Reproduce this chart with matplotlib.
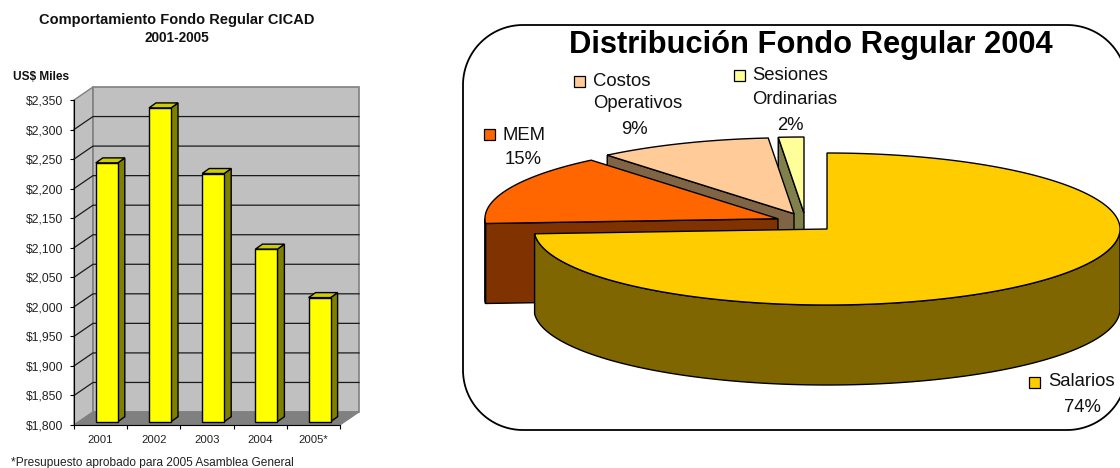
import numpy as np
import matplotlib
matplotlib.use("Agg")
import matplotlib.pyplot as plt
from matplotlib.patches import Polygon, Rectangle

plt.rcParams['font.family'] = ['Liberation Sans', 'DejaVu Sans']

# bar chart data
years = ['2001', '2002', '2003', '2004', '2005*']
fondo = [2238, 2331, 2220, 2092, 2010]
y_ticks = list(range(1800, 2351, 50))
y_labels = ['$' + format(v, ',') for v in y_ticks]

# pie data
rubros = ['Salarios', 'MEM', 'Costos', 'Sesiones']
partes = [74.0, 15.0, 9.6, 1.4]
top_col = ['#FFCC00', '#FF6600', '#FFCC99', '#FFFF99']
side_col = ['#7F6600', '#803300', '#7F6545', '#80804C']

W, H = 1120, 468
fig = plt.figure(figsize=(W / 100, H / 100), dpi=100, facecolor='white')

# overlay in pixels, for the frame and the free texts
ov = fig.add_axes([0, 0, 1, 1], zorder=5)
ov.set_xlim(0, W)
ov.set_ylim(H, 0)
ov.axis('off')

# ---- bar chart ----
ax = fig.add_axes([74 / W, 1 - 425 / H, 266 / W, 325 / H])
ax.set_xlim(0, 5)
ax.set_ylim(1800, 2350)
ax.patch.set_visible(False)
for s in ['top', 'right']:
    ax.spines[s].set_visible(False)
for s in ['left', 'bottom']:
    ax.spines[s].set_linewidth(0.8)

ppx = 5 / 266.0
ppy = 550 / 325.0
DX = 19 * ppx
DY = 13 * ppy
ymin, ymax = 1800, 2350

ax.add_patch(Polygon([(0, ymin), (DX, ymin + DY), (DX, ymax + DY), (0, ymax)],
                     fc='#C0C0C0', ec='#808080', lw=1, clip_on=False, zorder=1))
ax.add_patch(Polygon([(DX, ymin + DY), (5 + DX, ymin + DY), (5 + DX, ymax + DY), (DX, ymax + DY)],
                     fc='#C0C0C0', ec='#808080', lw=1.2, clip_on=False, zorder=1))
ax.add_patch(Polygon([(0, ymin), (5, ymin), (5 + DX, ymin + DY), (DX, ymin + DY)],
                     fc='#808080', ec='#808080', lw=0.8, clip_on=False, zorder=1))
for v in y_ticks[1:-1]:
    ax.plot([0, DX, 5 + DX], [v, v + DY, v + DY], color='#1a1a1a', lw=0.9, clip_on=False, zorder=2)

# bars: front face through ax.bar, then the two depth faces
bw = 22 * ppx
sx = 6.2 * ppx
sy = 3.3 * ppy
bdx = 7 * ppx
bdy = 5 * ppy
pos = np.arange(len(years)) + 0.5 + sx
ax.bar(pos, np.array(fondo) - ymin + 0.0, bw, bottom=ymin + sy, color='#FFFF00',
       edgecolor='black', linewidth=1, clip_on=False, zorder=4)
for p, v in zip(pos, fondo):
    l = p - bw / 2
    r = p + bw / 2
    t = v + sy
    ax.add_patch(Polygon([(r, ymin + sy), (r + bdx, ymin + sy + bdy), (r + bdx, t + bdy), (r, t)],
                         fc='#808000', ec='black', lw=1, clip_on=False, zorder=3))
    ax.add_patch(Polygon([(l, t), (r, t), (r + bdx, t + bdy), (l + bdx, t + bdy)],
                         fc='#CCCC00', ec='black', lw=1, clip_on=False, zorder=3))

ax.set_yticks(y_ticks)
ax.set_yticklabels(y_labels, fontsize=8.7, color='#222222')
ax.tick_params(axis='y', length=3, width=0.8, pad=5)
ax.set_xticks(range(6))
ax.set_xticklabels([])
ax.tick_params(axis='x', which='major', length=3, width=0.8)
ax.set_xticks(np.arange(5) + 0.5, minor=True)
ax.set_xticklabels(years, minor=True, fontsize=8.2, color='#222222')
ax.tick_params(axis='x', which='minor', length=0, pad=7)

ov.text(177, 20, 'Comportamiento Fondo Regular CICAD', ha='center', va='center',
        fontsize=10.5, fontweight='bold', color='#111111')
ov.text(177, 38, '2001-2005', ha='center', va='center', fontsize=9.8, fontweight='bold', color='#111111')
ov.text(13, 77, 'US$ Miles', ha='left', va='center', fontsize=8.6, fontweight='bold', color='#111111')
ov.text(11, 463, '*Presupuesto aprobado para 2005 Asamblea General', ha='left', va='center',
        fontsize=8.6, color='#222222')

# ---- pie ----
cx, cy, rx, ry = 805.3, 222.5, 293.0, 76.0
pie = fig.add_axes([0, 0, 1, 1], zorder=3)
pie.set_xlim((0 - cx) / rx, (W - cx) / rx)
pie.set_ylim((cy - H) / ry, cy / ry)
pie.axis('off')

depth = 80 / ry
ex_x, ex_y = 0.1017, 0.125

ang = np.cumsum([0] + partes) * 3.6
slices = []
for i in range(len(partes)):
    mid = np.radians((ang[i] + ang[i + 1]) / 2)
    ox = ex_x * np.sin(mid)
    oy = ex_y * np.cos(mid)
    slices.append((i, ang[i], ang[i + 1], ox, oy))


def rim(a0, a1, ox, oy):
    t = np.radians(np.linspace(a0, a1, max(int(abs(a1 - a0)) * 2, 2)))
    return ox + np.sin(t), oy + np.cos(t)


# back slices first, Salarios last
for i, a0, a1, ox, oy in [slices[3], slices[2], slices[1], slices[0]]:
    # cut face along the start radius, only seen on the left hand slices
    if a0 > 180:
        sxp, syp = rim(a0, a0, ox, oy)
        pie.add_patch(Polygon([(ox, oy), (sxp[0], syp[0]), (sxp[0], syp[0] - depth), (ox, oy - depth)],
                              fc=side_col[i], ec='black', lw=1, zorder=i * -1 + 5))
    # outer wall, front half only
    lo, hi = max(a0, 90), min(a1, 270)
    if hi > lo:
        xs, ys = rim(lo, hi, ox, oy)
        pts = list(zip(xs, ys)) + list(zip(xs[::-1], ys[::-1] - depth))
        pie.add_patch(Polygon(pts, fc=side_col[i], ec='black', lw=1, zorder=i * -1 + 5))
    xs, ys = rim(a0, a1, ox, oy)
    pts = [(ox, oy)] + list(zip(xs, ys))
    pie.add_patch(Polygon(pts, fc=top_col[i], ec='black', lw=1, zorder=i * -1 + 5.5))


# frame with round corners, runs off the right side of the picture
# (plain polyline, bezier curves got bent when clipped at the edge)
def round_box(x0, y0, x1, y1, r):
    t = np.radians(np.linspace(0, 90, 40))
    xs = np.concatenate([x1 - r + r * np.sin(t), x1 - r + r * np.cos(t),
                         x0 + r - r * np.sin(t), x0 + r - r * np.cos(t)])
    ys = np.concatenate([y0 + r - r * np.cos(t), y1 - r + r * np.sin(t),
                         y1 - r + r * np.cos(t), y0 + r - r * np.sin(t)])
    return xs, ys


bx, by = round_box(463, 25, 1127, 430, 60)
ov.add_patch(Polygon(np.column_stack([bx, by]), closed=True, fc='none', ec='black', lw=1.3))

ov.text(811, 45, 'Distribución Fondo Regular 2004', ha='center', va='center',
        fontsize=22.2, fontweight='bold')


def key(x, y, col):
    ov.add_patch(Rectangle((x, y - 5.5), 11, 11, fc=col, ec='black', lw=0.9))


fs = 13.3
key(484, 134, top_col[1])
ov.text(503, 135, 'MEM', ha='left', va='center', fontsize=fs, color='#111111')
ov.text(523, 159, '15%', ha='center', va='center', fontsize=fs, color='#111111')
key(574, 81, top_col[2])
ov.text(593, 81, 'Costos', ha='left', va='center', fontsize=fs, color='#111111')
ov.text(593, 103, 'Operativos', ha='left', va='center', fontsize=fs, color='#111111')
ov.text(634, 129, '9%', ha='center', va='center', fontsize=fs, color='#111111')
key(734, 75, top_col[3])
ov.text(752, 76, 'Sesiones', ha='left', va='center', fontsize=fs, color='#111111')
ov.text(752, 100, 'Ordinarias', ha='left', va='center', fontsize=fs, color='#111111')
ov.text(790, 125, '2%', ha='center', va='center', fontsize=fs, color='#111111')
key(1029, 382, top_col[0])
ov.text(1048, 382, 'Salarios', ha='left', va='center', fontsize=fs, color='#111111')
ov.text(1082, 407, '74%', ha='center', va='center', fontsize=fs, color='#111111')

fig.savefig('out.png', dpi=100)
